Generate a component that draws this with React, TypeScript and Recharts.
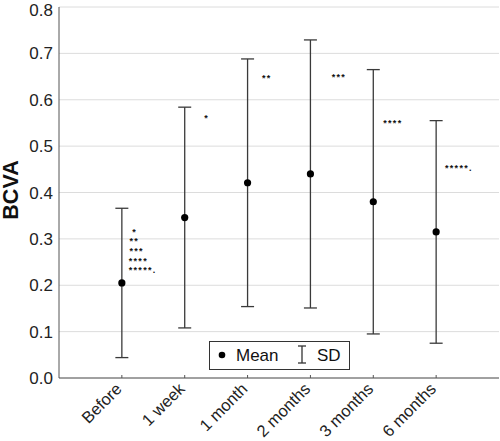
import React from 'react';
import { ComposedChart, Scatter, ErrorBar, XAxis, YAxis, CartesianGrid } from 'recharts';

const categories = ['Before', '1 week', '1 month', '2 months', '3 months', '6 months'];
const categoryPos = [1, 2, 3, 4, 5, 6];
const meanBCVA = [0.205, 0.346, 0.421, 0.44, 0.38, 0.315];
const sdBCVA = [0.161, 0.238, 0.267, 0.289, 0.285, 0.24];
const yTicks = [0, 0.1, 0.2, 0.3, 0.4, 0.5, 0.6, 0.7, 0.8];

// significance marks, placed beside each group
const starLabels = ['*', '**', '***', '****', '*****.', '*', '**', '***', '****', '*****.'];
const starX = [1.165, 1.12, 1.12, 1.11, 1.11, 2.312, 3.229, 4.338, 5.159, 6.141];
const starY = [0.319, 0.3, 0.278, 0.257, 0.237, 0.564, 0.651, 0.653, 0.555, 0.458];

const meanData = categoryPos.map((x, i) => ({ x, y: meanBCVA[i], sd: sdBCVA[i] }));
const starData = starLabels.map((label, i) => ({ x: starX[i], y: starY[i], label }));

const FONT = '"Liberation Sans", Arial, sans-serif';

const MeanDot = (props: any) => <circle cx={props.cx} cy={props.cy} r={3.6} fill="#000" />;

const StarText = (props: any) => (
  <text
    x={props.cx}
    y={props.cy + 5}
    fontSize={9}
    fontWeight="bold"
    letterSpacing={1.3}
    fill="#111"
    fontFamily={FONT}
  >
    {props.payload.label}
  </text>
);

const XTick = (props: any) => {
  const { x, y, payload } = props;
  return (
    <text
      transform={`translate(${x + 1},${y + 12}) rotate(-45)`}
      textAnchor="end"
      fontSize={16.5}
      fill="#222"
      fontFamily={FONT}
    >
      {categories[payload.value - 1]}
    </text>
  );
};

const YLabel = () => (
  <text
    transform="translate(18,190) rotate(-90)"
    textAnchor="middle"
    fontSize={21.5}
    fontWeight="bold"
    fill="#111"
    fontFamily={FONT}
  >
    BCVA
  </text>
);

export default function App() {
  return (
    <div style={{ position: 'absolute', left: 0, top: 0, width: 500, height: 441, background: '#fff' }}>
      <ComposedChart width={500} height={441} margin={{ top: 7, right: 1, bottom: 0, left: 0 }}>
        <CartesianGrid vertical={false} stroke="#dcdcdc" />
        <XAxis
          dataKey="x"
          type="number"
          domain={[0, 7]}
          ticks={categoryPos}
          height={63}
          stroke="#555"
          tickSize={-3}
          tickMargin={3}
          tick={<XTick />}
          interval={0}
        />
        <XAxis
          xAxisId="top"
          orientation="top"
          type="number"
          domain={[0, 7]}
          ticks={categoryPos}
          height={0}
          mirror
          tickSize={3}
          tick={false}
          stroke="#555"
        />
        <YAxis
          dataKey="y"
          type="number"
          domain={[0, 0.8]}
          ticks={yTicks}
          width={59}
          stroke="#555"
          tickLine={false}
          tickSize={0}
          tickMargin={6}
          tickFormatter={(v: number) => v.toFixed(1)}
          tick={{ fontSize: 17, fill: '#222', fontFamily: FONT }}
          label={{ content: () => <YLabel /> }}
        />
        <YAxis
          yAxisId="right"
          orientation="right"
          type="number"
          domain={[0, 0.8]}
          ticks={yTicks}
          width={0}
          mirror
          tickSize={4}
          tick={false}
          stroke="#555"
        />
        <Scatter data={meanData} shape={<MeanDot />} isAnimationActive={false}>
          <ErrorBar dataKey="sd" direction="y" width={6.5} stroke="#3a3a3a" strokeWidth={1.3} isAnimationActive={false} />
        </Scatter>
        <Scatter data={starData} shape={<StarText />} isAnimationActive={false} />
      </ComposedChart>
      <svg
        width={141}
        height={29}
        style={{ position: 'absolute', left: 209, top: 341 }}
      >
        <rect x={0.5} y={0.5} width={140} height={28} fill="#fff" stroke="#333" />
        <circle cx={13} cy={14} r={3.3} fill="#000" />
        <text x={27} y={20} fontSize={17} fill="#111" fontFamily={FONT}>Mean</text>
        <line x1={93} y1={5} x2={93} y2={22} stroke="#333" strokeWidth={1.3} />
        <line x1={89} y1={5} x2={97} y2={5} stroke="#333" strokeWidth={1.3} />
        <line x1={89} y1={22} x2={97} y2={22} stroke="#333" strokeWidth={1.3} />
        <text x={108} y={20} fontSize={17} fill="#111" fontFamily={FONT}>SD</text>
      </svg>
    </div>
  );
}
